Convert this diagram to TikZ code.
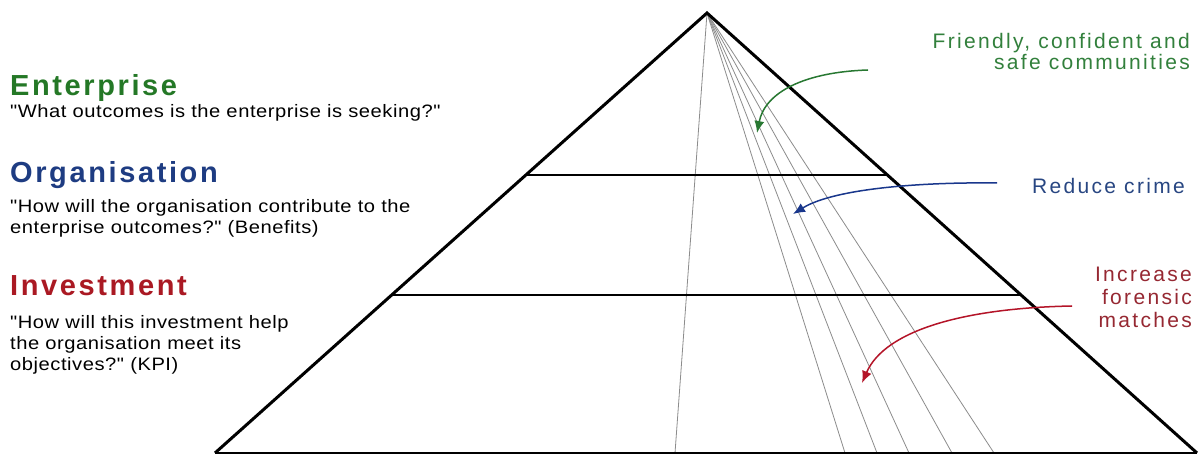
\documentclass[tikz,border=0pt]{standalone}
\usepackage{fontspec}
\setmainfont{Liberation Sans}
\newfontfamily\titlefont[LetterSpace=9]{Liberation Sans}
\newfontfamily\subfont[LetterSpace=3,FakeStretch=1.12]{Liberation Sans}
\newfontfamily\labelfont[LetterSpace=11]{Liberation Sans}
\usetikzlibrary{arrows.meta,calc}
\definecolor{entgreen}{RGB}{36,120,38}
\definecolor{orgblue}{RGB}{30,60,130}
\definecolor{invred}{RGB}{170,25,35}
\definecolor{lblgreen}{RGB}{50,128,60}
\definecolor{lblblue}{RGB}{40,70,130}
\definecolor{lblred}{RGB}{150,40,50}
\definecolor{arrgreen}{RGB}{40,120,50}
\definecolor{arrblue}{RGB}{25,55,140}
\definecolor{arrred}{RGB}{180,20,40}
\begin{document}
\begin{tikzpicture}[x=1pt,y=-1pt,
  titletext/.style={anchor=base west, inner sep=0pt, font=\titlefont\bfseries\fontsize{29}{32}\selectfont},
  subtext/.style={anchor=base west, inner sep=0pt, font=\subfont\fontsize{18}{21}\selectfont},
  rlabel/.style={anchor=base east, inner sep=0pt, font=\labelfont\fontsize{21}{24}\selectfont},
  edge/.style={line width=3pt, black},
  level/.style={line width=2.5pt, black},
  ray/.style={line width=0.8pt, black!45},
  curvearrow/.style={line width=1.5pt, -{Latex[length=12pt,width=10pt]}}
]
\useasboundingbox (0,0) rectangle (1202,454);
\clip (0,0) rectangle (1202,454);
\fill[white] (0,0) rectangle (1202,454);

% pyramid geometry
\coordinate (apex) at (707,13);
\coordinate (bl) at (215,453);
\coordinate (br) at (1197,453);
\coordinate (r1) at (675,453);
\coordinate (r2) at (845,453);
\coordinate (r3) at (877,453);
\coordinate (r4) at (909,453);
\coordinate (r5) at (952,453);
\coordinate (r6) at (994,453);

\foreach \r in {r1,r2,r3,r4,r5,r6} \draw[ray] (apex) -- (\r);

\draw[level] ($(apex)!0.3682!(bl)$) coordinate (l1a) -- ($(apex)!0.3682!(br)$) coordinate (l1b);
\draw[level] ($(apex)!0.6409!(bl)$) coordinate (l2a) -- ($(apex)!0.6409!(br)$) coordinate (l2b);
\draw[edge] (bl) -- (br);
\draw[edge, line join=miter] (bl) -- (apex) -- (br);

% left texts
\node[titletext, text=entgreen] (ent) at (10,96) {Enterprise};
\node[subtext] (entq) at (10,118) {"What outcomes is the enterprise is seeking?"};
\node[titletext, text=orgblue] (org) at (10,183) {Organisation};
\node[subtext] (orgq1) at (10,213) {"How will the organisation contribute to the};
\node[subtext] (orgq2) at (10,234) {enterprise outcomes?" (Benefits)};
\node[titletext, text=invred] (inv) at (10,296) {Investment};
\node[subtext] (invq1) at (10,328) {"How will this investment help};
\node[subtext] (invq2) at (10,349) {the organisation meet its};
\node[subtext] (invq3) at (10,370) {objectives?" (KPI)};

% right labels
\node[rlabel, text=lblgreen] (fr1) at (1190,49) {Friendly, confident and};
\node[rlabel, text=lblgreen] (fr2) at (1190,70) {safe communities};
\node[rlabel, text=lblblue] (rc) at (1185,194) {Reduce crime};
\node[rlabel, text=lblred] (ifm1) at (1192,282) {Increase};
\node[rlabel, text=lblred] (ifm2) at (1192,305) {forensic};
\node[rlabel, text=lblred] (ifm3) at (1192,327) {matches};

% arrows
\coordinate (gs) at (868,70);
\coordinate (gt) at (757,133);
\coordinate (bs) at (997,183);
\coordinate (bt) at (793,214);
\coordinate (rs) at (1072,306);
\coordinate (rt) at (862,383);
\draw[curvearrow, arrgreen] (gs) .. controls (805,72) and (765,92) .. (gt);
\draw[curvearrow, arrblue] (bs) .. controls (925,182) and (835,188) .. (bt);
\draw[curvearrow, arrred] (rs) .. controls (965,308) and (885,330) .. (rt);
\end{tikzpicture}
\end{document}
